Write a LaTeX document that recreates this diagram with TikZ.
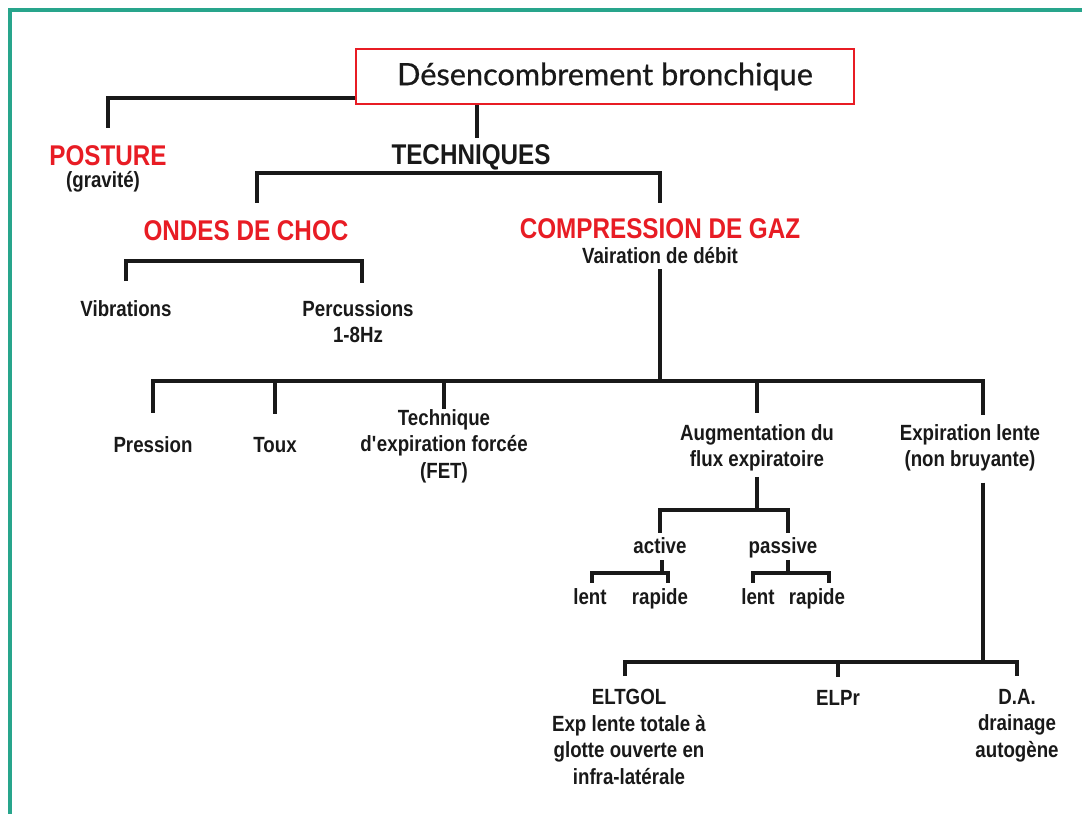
\documentclass[tikz,border=0pt]{standalone}
\usepackage{fontspec}
\setmainfont{Liberation Sans}[FakeStretch=0.85]
\newfontfamily\titlefont{Lato}[FakeBold=0.6]
\newcommand\fsmall{\fontsize{16.5pt}{19.9pt}\selectfont\bfseries}
\newcommand\fbig{\fontsize{21.4pt}{25pt}\selectfont\bfseries}
\definecolor{redc}{RGB}{232,28,36}
\definecolor{tealc}{RGB}{40,165,140}
\definecolor{ink}{RGB}{25,25,25}
\begin{document}
\begin{tikzpicture}[x=0.75pt,y=-0.75pt,
  lab/.style={inner sep=0pt, align=center, font=\fsmall, text=ink},
  hdr/.style={inner sep=0pt, font=\fbig, text=redc},
  wire/.style={draw=ink, line width=2.3pt}]
\path[use as bounding box] (0,0) rectangle (1082,814);
\fill[white] (0,0) rectangle (1082,814);
\draw[tealc, line width=2.4pt] (10,814) -- (10,10) -- (1082,10);

% title
\node[draw=redc, line width=2.2pt, minimum width=373.5pt, minimum height=41.25pt, inner sep=0pt,
  font=\titlefont\fontsize{23pt}{25pt}\selectfont, text=ink] (title) at (605,76.5) {Désencombrement bronchique};

% level 1
\node[hdr, anchor=base] (posture) at (108,165) {POSTURE};
\node[lab, anchor=base] (gravite) at (103,187) {(gravité)};
\node[inner sep=0pt, font=\fbig, text=ink, anchor=base] (tech) at (471,164) {TECHNIQUES};

% level 2
\node[hdr, anchor=base] (ondes) at (246,240) {ONDES DE CHOC};
\node[hdr, anchor=base] (comp) at (660,238) {COMPRESSION DE GAZ};
\node[lab, anchor=base] (vair) at (660,263) {Vairation de débit};

% ondes children
\node[lab, anchor=base] (vib) at (126,316) {Vibrations};
\node[lab, anchor=north] (perc) at (358,300) {Percussions\\1-8Hz};

% compression children
\node[lab, anchor=base] (pression) at (153,452) {Pression};
\node[lab, anchor=base] (toux) at (275,452) {Toux};
\node[lab, anchor=north] (fet) at (444,409) {Technique\\d\textquotesingle expiration forcée\\(FET)};
\node[lab, anchor=north] (augm) at (757,424) {Augmentation du\\flux expiratoire};
\node[lab, anchor=north] (expl) at (970,424) {Expiration lente\\(non bruyante)};

% augmentation children
\node[lab, anchor=base] (active) at (660,553) {active};
\node[lab, anchor=base] (passive) at (783,553) {passive};
\node[lab, anchor=base] (lentA) at (590,604) {lent};
\node[lab, anchor=base] (rapA) at (660,604) {rapide};
\node[lab, anchor=base] (lentP) at (758,604) {lent};
\node[lab, anchor=base] (rapP) at (817,604) {rapide};

% expiration lente children
\node[lab, anchor=north] (eltgol) at (629,689) {ELTGOL\\Exp lente totale à\\glotte ouverte en\\infra-latérale};
\node[lab, anchor=base] (elpr) at (838,705) {ELPr};
\node[lab, anchor=north] (da) at (1017,689) {D.A.\\drainage\\autogène};

% connectors
\draw[wire, shorten >=12.75pt] (title.west |- 0,98) -| (posture.north);
\draw[wire, shorten >=4.5pt] ([xshift=4.5pt]tech.north |- title.south) -- ([xshift=4.5pt]tech.north);
\draw[wire, shorten <=12.75pt, shorten >=11pt] ([xshift=8.25pt]ondes.north) |- (comp.north |- 0,173) -- (comp.north);

\draw[wire, shorten <=14pt, shorten >=13pt] (vib.north) |- ([xshift=3pt]perc.north |- 0,261) -- ([xshift=3pt]perc.north);

\draw[wire, shorten <=4.5pt] (vair.south) -- (vair.south |- 0,381);
\draw[wire, shorten <=17.25pt, shorten >=6.75pt] (pression.north) |- ([xshift=9.75pt]expl.north |- 0,381) -- ([xshift=9.75pt]expl.north);
\draw[wire, shorten >=17.25pt] (toux.north |- 0,381) -- (toux.north);
\draw[wire] (fet.north |- 0,381) -- (fet.north);
\draw[wire, shorten >=8.25pt] (augm.north |- 0,381) -- (augm.north);

\draw[wire, shorten <=4pt] (augm.south) -- (augm.south |- 0,510);
\draw[wire, shorten <=3pt, shorten >=3pt] (active.north) |- ([xshift=3.75pt]passive.north |- 0,510) -- ([xshift=3.75pt]passive.north);

\draw[wire, shorten <=5.25pt] ([xshift=1.5pt]active.south) -- ([xshift=1.5pt]active.south |- 0,573);
\draw[wire, shorten <=3.75pt, shorten >=3.75pt] ([xshift=1.5pt]lentA.north) |- ([xshift=6pt]rapA.north |- 0,573) -- ([xshift=6pt]rapA.north);

\draw[wire, shorten <=1.5pt] ([xshift=3.75pt]passive.south) -- ([xshift=3.75pt]passive.south |- 0,573);
\draw[wire, shorten <=3.75pt, shorten >=3.75pt] ([xshift=-3.75pt]lentP.north) |- ([xshift=9pt]rapP.north |- 0,573) -- ([xshift=9pt]rapP.north);

\draw[wire, shorten <=8.25pt] ([xshift=9.75pt]expl.south) -- ([xshift=9.75pt]expl.south |- 0,662);
\draw[wire, shorten <=9.75pt, shorten >=9.75pt] ([xshift=-3pt]eltgol.north) |- (da.north |- 0,662) -- (da.north);
\draw[wire, shorten >=9.75pt] (elpr.north |- 0,662) -- (elpr.north);
\end{tikzpicture}
\end{document}
